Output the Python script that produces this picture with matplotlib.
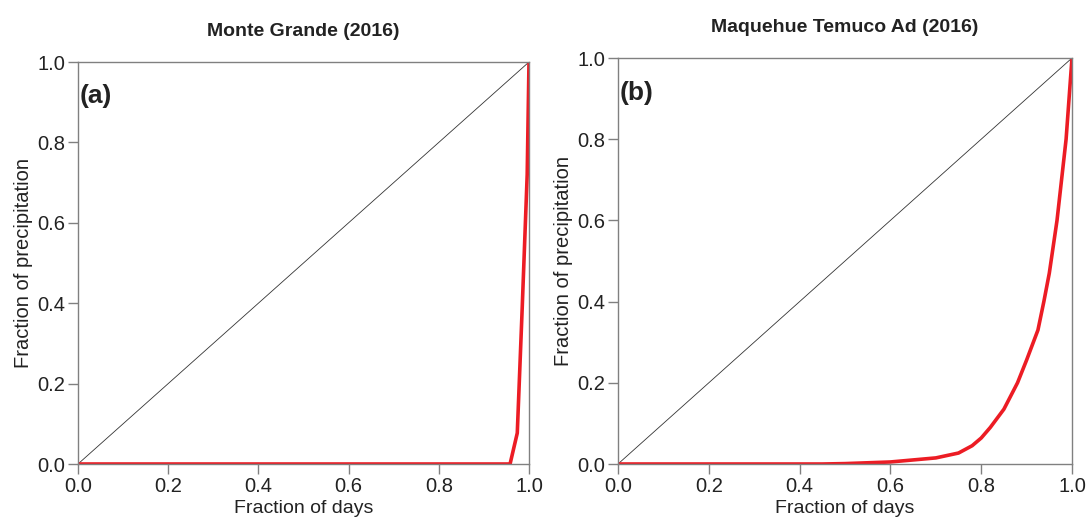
import numpy as np
import matplotlib
matplotlib.use('Agg')
import matplotlib.pyplot as plt

plt.rcParams['font.family'] = ['Liberation Sans', 'DejaVu Sans']

# Lorenz-type curves
xa = [0.0, 0.958, 0.974, 0.985, 0.996, 1.0]
ya = [0.0, 0.0, 0.077, 0.39, 0.72, 1.0]

xb = [0.0, 0.45, 0.5, 0.6, 0.7, 0.75, 0.78, 0.8, 0.82, 0.85, 0.88, 0.9, 0.925, 0.938, 0.95, 0.967, 0.975, 0.987, 1.0]
yb = [0.0, 0.0, 0.001, 0.005, 0.015, 0.027, 0.045, 0.064, 0.09, 0.135, 0.2, 0.256, 0.33, 0.4, 0.47, 0.6, 0.68, 0.8, 1.0]

titles = ['Monte Grande (2016)', 'Maquehue Temuco Ad (2016)']
tags = ['(a)', '(b)']
ticks = [0.0, 0.2, 0.4, 0.6, 0.8, 1.0]

fig = plt.figure(figsize=(10.88, 5.27), dpi=100)
ax1 = fig.add_axes([78/1088, 63/527, 451/1088, 402/527])
ax2 = fig.add_axes([618/1088, 63/527, 454/1088, 406/527])

for ax, x, y, t, tag in zip([ax1, ax2], [xa, xb], [ya, yb], titles, tags):
    ax.plot([0, 1], [0, 1], color='#333333', lw=0.6)
    ax.plot(x, y, color='#ec1c24', lw=2.6, solid_capstyle='butt')
    ax.set_xlim(0, 1)
    ax.set_ylim(0, 1)
    ax.set_xticks(ticks)
    ax.set_yticks(ticks)
    ax.set_xticklabels(['%.1f' % v for v in ticks])
    ax.set_yticklabels(['%.1f' % v for v in ticks])
    ax.tick_params(direction='out', length=7, width=1, color='#808080',
                   labelsize=14.5, labelcolor='#222222', pad=2)
    for s in ax.spines.values():
        s.set_color('#808080')
        s.set_linewidth(1)
    ax.set_xlabel('Fraction of days', fontsize=14, color='#222222', labelpad=3)
    ax.set_ylabel('Fraction of precipitation', fontsize=14.5, color='#222222', labelpad=3)
    ax.set_title(t, fontsize=14, fontweight='bold', color='#222222', pad=19)
    ax.text(0.003, 0.915, tag, transform=ax.transAxes, fontsize=19,
            fontweight='bold', color='#222222', va='center')

fig.savefig('out.png', dpi=100)
